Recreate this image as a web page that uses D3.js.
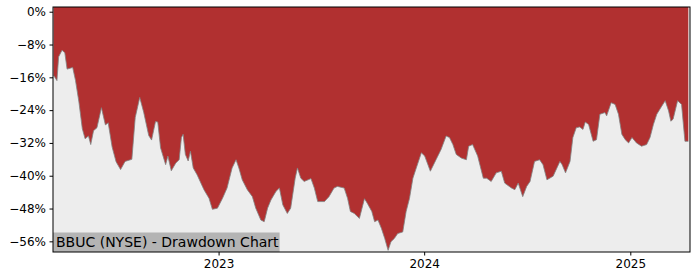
<!DOCTYPE html>
<html>
<head>
<meta charset="utf-8">
<script src="https://cdn.jsdelivr.net/npm/d3@7"></script>
<style>
  body { margin: 0; background: #fff; }
  svg { display: block; }
  text { font-family: 'DejaVu Sans', sans-serif; fill: #000; }
</style>
</head>
<body>
<svg id="vis"></svg>
<script>
const FILL_COLOUR = 'rgb(177, 48, 48)';
const BG_COLOUR = 'rgb(237, 237, 237)';
const EDGE_COLOUR = 'rgb(130, 130, 130)';
const LABEL_BG = 'rgb(180, 180, 180)';

const TITLE = 'BBUC (NYSE) - Drawdown Chart';

const dates = [
    '2022-03-14', '2022-03-20', '2022-03-23', '2022-03-29', '2022-04-03', '2022-04-07', '2022-04-17', '2022-04-22',
    '2022-04-28', '2022-05-04', '2022-05-09', '2022-05-15', '2022-05-19', '2022-05-24', '2022-05-30', '2022-06-07',
    '2022-06-14', '2022-06-19', '2022-06-26', '2022-07-03', '2022-07-11', '2022-07-19', '2022-07-31', '2022-08-06',
    '2022-08-14', '2022-08-21', '2022-08-30', '2022-09-04', '2022-09-11', '2022-09-15', '2022-09-20', '2022-09-29',
    '2022-10-03', '2022-10-09', '2022-10-17', '2022-10-23', '2022-10-27', '2022-10-30', '2022-11-03', '2022-11-08',
    '2022-11-12', '2022-11-17', '2022-11-24', '2022-12-06', '2022-12-15', '2022-12-21', '2022-12-30',
    '2023-01-08', '2023-01-16', '2023-01-25', '2023-02-01', '2023-02-06', '2023-02-12', '2023-02-21', '2023-03-02',
    '2023-03-08', '2023-03-17', '2023-03-23', '2023-03-29', '2023-04-04', '2023-04-13', '2023-04-19', '2023-04-25',
    '2023-05-03', '2023-05-09', '2023-05-17', '2023-05-21', '2023-05-27', '2023-06-02', '2023-06-14', '2023-06-20',
    '2023-06-26', '2023-07-08', '2023-07-16', '2023-07-25', '2023-07-31', '2023-08-12', '2023-08-18', '2023-08-23',
    '2023-08-30', '2023-09-08', '2023-09-17', '2023-09-22', '2023-09-30', '2023-10-05', '2023-10-11', '2023-10-17',
    '2023-10-23', '2023-10-29', '2023-11-03', '2023-11-09', '2023-11-15', '2023-11-24', '2023-11-30', '2023-12-06',
    '2023-12-12', '2023-12-18', '2023-12-27',
    '2024-01-02', '2024-01-12', '2024-01-22', '2024-01-31', '2024-02-09', '2024-02-15', '2024-02-21', '2024-02-27',
    '2024-03-07', '2024-03-16', '2024-03-20', '2024-03-27', '2024-04-05', '2024-04-15', '2024-04-21', '2024-04-29',
    '2024-05-08', '2024-05-17', '2024-05-23', '2024-06-04', '2024-06-10', '2024-06-16', '2024-06-24', '2024-07-01',
    '2024-07-07', '2024-07-15', '2024-07-24', '2024-07-30', '2024-08-06', '2024-08-17', '2024-08-29', '2024-09-02',
    '2024-09-08', '2024-09-16', '2024-09-21', '2024-09-27', '2024-10-03', '2024-10-09', '2024-10-13', '2024-10-19',
    '2024-10-27', '2024-11-02', '2024-11-08', '2024-11-17', '2024-11-20', '2024-11-28', '2024-12-05', '2024-12-11',
    '2024-12-17', '2024-12-23', '2024-12-29',
    '2025-01-04', '2025-01-12', '2025-01-21', '2025-01-30', '2025-02-05', '2025-02-11', '2025-02-17', '2025-02-26',
    '2025-03-04', '2025-03-10', '2025-03-14', '2025-03-18', '2025-03-26', '2025-04-02', '2025-04-08', '2025-04-14'
];

const drawdown = [
    -15.5, -16.8, -11.0, -9.4, -10.0, -14.0, -13.6, -16.8,
    -22.0, -28.5, -31.0, -30.3, -32.4, -29.0, -28.3, -23.4,
    -27.6, -27.1, -33.0, -36.6, -38.5, -36.5, -36.0, -25.8,
    -20.9, -24.5, -30.2, -31.3, -26.8, -26.9, -33.2, -37.3,
    -35.2, -38.8, -36.9, -36.1, -30.7, -29.9, -34.8, -36.4,
    -34.0, -38.1, -39.8, -43.4, -45.5, -48.2, -47.9,
    -45.5, -43.0, -38.1, -36.1, -38.1, -41.0, -43.4, -45.1,
    -47.9, -50.8, -51.2, -47.9, -45.9, -43.8, -43.0, -47.1,
    -49.2, -47.9, -40.6, -38.1, -40.6, -41.4, -40.7, -43.0,
    -46.3, -46.3, -45.1, -43.0, -42.6, -43.0, -45.5, -48.7,
    -49.2, -50.4, -45.6, -46.7, -48.7, -51.2, -50.8, -52.8,
    -55.3, -58.2, -56.1, -55.3, -54.1, -53.7, -48.7, -45.5,
    -40.6, -38.1, -34.4,
    -35.2, -38.9, -36.1, -33.6, -30.3, -30.7, -32.4, -34.8,
    -35.7, -36.1, -32.8, -32.4, -35.2, -40.6, -40.6, -41.4,
    -39.3, -38.9, -41.8, -43.0, -43.4, -41.8, -45.1, -42.6,
    -41.4, -36.5, -36.1, -37.3, -41.0, -40.1, -36.5, -37.3,
    -39.3, -36.5, -30.7, -28.3, -28.1, -28.7, -26.9, -27.5,
    -31.6, -31.2, -25.0, -24.6, -25.4, -22.2, -22.6, -25.0,
    -29.9, -31.2, -32.0,
    -30.7, -32.0, -32.8, -32.4, -30.7, -27.5, -25.0, -23.0,
    -21.7, -24.2, -26.7, -26.2, -21.7, -22.6, -31.6, -31.6
];

const yTicks = [0, -8, -16, -24, -32, -40, -48, -56];
const xTicks = ['2023-01-01', '2024-01-01', '2025-01-01'];
const xDomain = ['2022-03-13', '2025-04-17'];
const yDomain = [-58.6, 1.15];

var parseDate = d3.timeParse('%Y-%m-%d');

function loadVisualisation(width, height) {
    var svg = d3.select('#vis').attr('width', width).attr('height', height);
    var plot = { left: 53, right: 690, top: 7, bottom: 252 };

    var x = d3.scaleTime()
        .domain(xDomain.map(parseDate))
        .range([plot.left, plot.right]);
    var y = d3.scaleLinear()
        .domain(yDomain)
        .range([plot.bottom, plot.top]);

    var points = dates.map(function (d, i) {
        return { date: parseDate(d), value: drawdown[i] };
    });

    // grey background of the axes
    svg.append('rect')
        .attr('x', plot.left).attr('y', plot.top)
        .attr('width', plot.right - plot.left).attr('height', plot.bottom - plot.top)
        .attr('fill', BG_COLOUR);

    drawFill(svg, points, x, y, plot);
    drawLabel(svg, plot);
    drawAxes(svg, x, y, plot);
}

function drawFill(svg, points, x, y, plot) {
    var area = d3.area()
        .x(function (d) { return x(d.date); })
        .y0(plot.top)
        .y1(function (d) { return y(d.value); });
    svg.append('path')
        .datum(points)
        .attr('d', area)
        .attr('fill', FILL_COLOUR);

    var line = d3.line()
        .x(function (d) { return x(d.date); })
        .y(function (d) { return y(d.value); });
    svg.append('path')
        .datum(points)
        .attr('d', line)
        .attr('fill', 'none')
        .attr('stroke', EDGE_COLOUR)
        .attr('stroke-width', 1)
        .attr('stroke-opacity', 0.8);
}

function drawLabel(svg, plot) {
    var g = svg.append('g');
    var txt = g.append('text')
        .attr('x', plot.left + 3)
        .attr('y', plot.bottom - 5)
        .attr('font-size', 14)
        .text(TITLE);
    var w = txt.node().getComputedTextLength();
    g.insert('rect', 'text')
        .attr('x', plot.left)
        .attr('y', plot.bottom - 19.5)
        .attr('width', w + 4)
        .attr('height', 19.5)
        .attr('fill', LABEL_BG);
}

function formatPct(v) {
    return (v < 0 ? '\u2212' + Math.abs(v) : v) + '%';
}

function drawAxes(svg, x, y, plot) {
    var yAxis = d3.axisLeft(y)
        .tickValues(yTicks)
        .tickSize(3.5)
        .tickPadding(3.5)
        .tickFormat(formatPct);
    var gy = svg.append('g')
        .attr('transform', 'translate(' + plot.left + ',0)')
        .call(yAxis);

    var xAxis = d3.axisBottom(x)
        .tickValues(xTicks.map(parseDate))
        .tickSize(3.5)
        .tickPadding(3.5)
        .tickFormat(d3.timeFormat('%Y'));
    var gx = svg.append('g')
        .attr('transform', 'translate(0,' + plot.bottom + ')')
        .call(xAxis);

    [gx, gy].forEach(function (g) {
        g.select('.domain').remove();
        g.selectAll('.tick line').attr('stroke', '#000').attr('stroke-width', 1);
        g.selectAll('.tick text')
            .attr('font-family', "'DejaVu Sans', sans-serif")
            .attr('font-size', 12)
            .attr('fill', '#000');
    });

    // frame round the axes
    svg.append('rect')
        .attr('x', plot.left).attr('y', plot.top)
        .attr('width', plot.right - plot.left).attr('height', plot.bottom - plot.top)
        .attr('fill', 'none')
        .attr('stroke', '#000')
        .attr('stroke-width', 1);
}

loadVisualisation(700, 280);
</script>
</body>
</html>
